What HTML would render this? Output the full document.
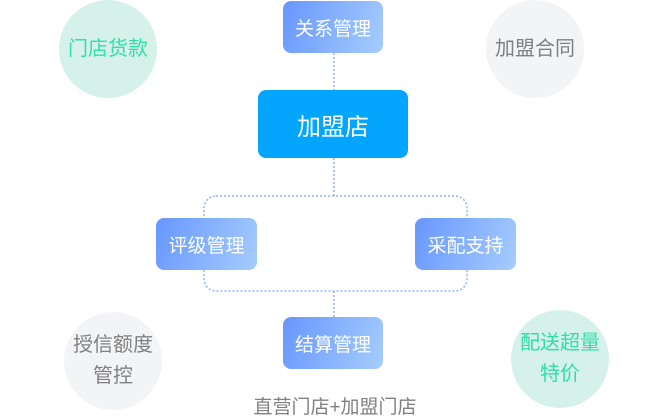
<!DOCTYPE html>
<html><head><meta charset="utf-8"><style>
body{margin:0;width:670px;height:420px;background:#fff;position:relative;overflow:hidden;font-family:"Liberation Sans","Noto Sans CJK SC",sans-serif}
.c{position:absolute;border-radius:50%;display:flex;align-items:center;justify-content:center;text-align:center;font-size:20px;line-height:31px}
.g{background:#d5f1ea;color:#2fe0a8}
.h{background:#f3f4f6;color:#808080}
.b{position:absolute;border-radius:8px;display:flex;align-items:center;justify-content:center;color:#fff;font-size:19px;background:linear-gradient(110deg,#6796fd,#a6cdfd)}
</style></head><body>
<div class="c g" style="left:59px;top:0;width:98px;height:98px">门店货款</div>
<div class="c h" style="left:486px;top:0;width:98px;height:98px">加盟合同</div>
<div class="c h" style="left:64px;top:312px;width:98px;height:98px">授信额度<br>管控</div>
<div class="c g" style="left:511px;top:310px;width:98px;height:98px">配送超量<br>特价</div>
<svg width="670" height="420" style="position:absolute;left:0;top:0">
<g fill="none" stroke="#8fb4f5" stroke-width="1.5" stroke-dasharray="2,2">
<line x1="334" y1="53" x2="334" y2="90"/>
<line x1="334" y1="158" x2="334" y2="196"/>
<rect x="204" y="196" width="263" height="95" rx="12"/>
<line x1="334" y1="291" x2="334" y2="317"/>
</g></svg>
<div class="b" style="left:283px;top:1px;width:100px;height:52px">关系管理</div>
<div class="b" style="left:258px;top:90px;width:150px;height:68px;background:#03a6fc;font-size:24px">加盟店</div>
<div class="b" style="left:156px;top:218px;width:101px;height:52px">评级管理</div>
<div class="b" style="left:415px;top:218px;width:101px;height:52px">采配支持</div>
<div class="b" style="left:283px;top:317px;width:100px;height:52px">结算管理</div>
<div style="position:absolute;left:0;width:670px;top:392px;text-align:center;font-size:19px;color:#808080">直营门店+加盟门店</div>
</body></html>
